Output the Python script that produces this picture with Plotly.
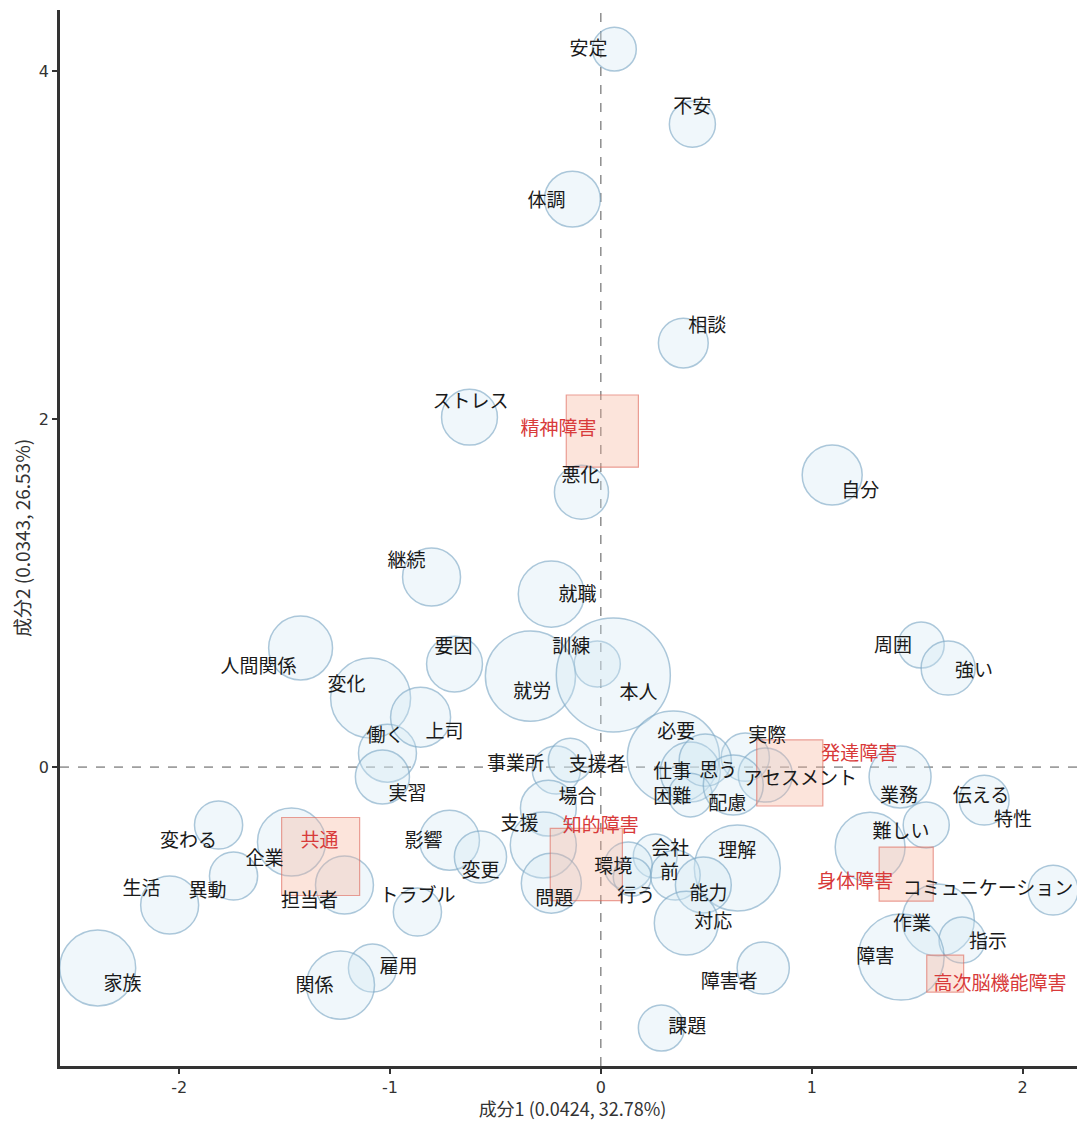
import plotly.graph_objects as go

# ---- word bubbles (component 1, component 2, frequency) ----
words = ["安定", "不安", "体調", "相談", "ストレス", "悪化", "自分", "継続", "就職", "周囲",
         "強い", "人間関係", "要因", "訓練", "変化", "就労", "本人", "働く", "上司", "必要",
         "実際", "事業所", "支援者", "仕事", "思う", "アセスメント", "業務", "伝える", "実習", "場合",
         "困難", "配慮", "特性", "変わる", "影響", "支援", "難しい", "企業", "会社", "理解",
         "変更", "環境", "前", "生活", "異動", "担当者", "トラブル", "問題", "行う", "能力",
         "コミュニケーション", "作業", "対応", "指示", "障害", "家族", "雇用", "関係", "障害者", "課題"]
word_x = [0.064, 0.434, -0.135, 0.391, -0.623, -0.092, 1.097, -0.803, -0.235, 1.519,
          1.647, -1.424, -0.694, -0.017, -1.092, -0.334, 0.059, -1.012, -0.855, 0.344,
          0.685, -0.211, -0.145, 0.424, 0.495, 0.780, 1.419, 1.818, -1.036, -0.249,
          0.424, 0.628, 1.543, -1.813, -0.718, -0.273, 1.277, -1.467, 0.258, 0.647,
          -0.571, 0.130, 0.353, -2.045, -1.742, -1.216, -0.870, -0.235, 0.149, 0.486,
          2.145, 1.600, 0.405, 1.713, 1.424, -2.386, -1.083, -1.235, 0.770, 0.287]
word_y = [4.126, 3.695, 3.264, 2.437, 2.011, 1.580, 1.678, 1.092, 0.994, 0.701,
          0.569, 0.684, 0.592, 0.592, 0.397, 0.523, 0.529, 0.080, 0.287, 0.057,
          0.057, -0.017, 0.040, -0.029, 0.040, -0.046, -0.057, -0.190, -0.057, -0.236,
          -0.161, -0.103, -0.333, -0.333, -0.420, -0.448, -0.460, -0.431, -0.511, -0.580,
          -0.517, -0.569, -0.621, -0.793, -0.626, -0.678, -0.833, -0.667, -0.632, -0.678,
          -0.707, -0.879, -0.897, -0.994, -1.092, -1.155, -1.155, -1.253, -1.155, -1.500]
word_freq = [48, 53, 78, 62, 78, 73, 90, 84, 109, 53,
             73, 102, 78, 53, 160, 203, 325, 84, 90, 212,
             58, 58, 48, 90, 68, 73, 96, 62, 73, 78,
             48, 90, 53, 58, 90, 109, 122, 116, 48, 185,
             68, 58, 62, 84, 58, 84, 58, 90, 36, 78,
             62, 130, 102, 53, 185, 144, 58, 116, 68, 53]
# label positions (repelled from bubble centres)
label_x = [-0.059, 0.434, -0.258, 0.505, -0.618, -0.097, 1.230, -0.922, -0.111, 1.386,
           1.770, -1.623, -0.699, -0.140, -1.206, -0.325, 0.178, -1.021, -0.742, 0.358,
           0.789, -0.405, -0.017, 0.339, 0.557, 0.945, 1.414, 1.803, -0.917, -0.111,
           0.339, 0.600, 1.955, -1.955, -0.841, -0.386, 1.424, -1.595, 0.329, 0.647,
           -0.571, 0.059, 0.325, -2.178, -1.865, -1.382, -0.870, -0.221, 0.168, 0.510,
           1.836, 1.476, 0.533, 1.836, 1.301, -2.268, -0.960, -1.358, 0.609, 0.410]
label_y = [4.121, 3.787, 3.247, 2.529, 2.092, 1.667, 1.580, 1.178, 0.983, 0.690,
           0.546, 0.569, 0.684, 0.684, 0.466, 0.425, 0.420, 0.172, 0.195, 0.195,
           0.172, 0.011, 0.006, -0.034, -0.029, -0.075, -0.172, -0.172, -0.161, -0.178,
           -0.178, -0.218, -0.310, -0.431, -0.431, -0.333, -0.379, -0.534, -0.477, -0.489,
           -0.603, -0.580, -0.617, -0.707, -0.718, -0.776, -0.747, -0.764, -0.747, -0.736,
           -0.707, -0.908, -0.897, -1.011, -1.098, -1.253, -1.155, -1.264, -1.241, -1.500]

# ---- category squares ----
cats = ["精神障害", "発達障害", "共通", "知的障害", "身体障害", "高次脳機能障害"]
cat_x = [0.007, 0.896, -1.329, -0.069, 1.448, 1.633]
cat_y = [1.931, -0.034, -0.514, -0.560, -0.615, -1.187]
cat_n = [130, 109, 152, 130, 73, 34]
cat_label_x = [-0.201, 1.225, -1.334, 0.000, 1.206, 1.893]
cat_label_y = [1.937, 0.069, -0.431, -0.345, -0.667, -1.253]

x_ticks = [-2, -1, 0, 1, 2]
x_tick_text = ["-2", "-1", "0", "1", "2"]
y_ticks = [0, 2, 4]
y_tick_text = ["0", "2", "4"]
x_title = "成分1 (0.0424, 32.78%)"
y_title = "成分2 (0.0343, 26.53%)"

JP = "Noto Sans CJK JP"

fig = go.Figure()
fig.add_trace(go.Scatter(
    x=word_x, y=word_y, mode="markers", hoverinfo="skip", showlegend=False,
    marker=dict(size=word_freq, sizemode="area", sizeref=0.05,
                color="rgba(211,233,244,0.45)",
                line=dict(color="rgba(130,172,200,0.95)", width=1.5))))
fig.add_trace(go.Scatter(
    x=cat_x, y=cat_y, mode="markers", hoverinfo="skip", showlegend=False,
    marker=dict(symbol="square", size=cat_n, sizemode="area", sizeref=0.05,
                color="rgba(248,180,155,0.5)",
                line=dict(color="rgba(225,110,95,0.95)", width=1.2))))
fig.add_trace(go.Scatter(
    x=label_x, y=label_y, mode="text", text=words, hoverinfo="skip", showlegend=False,
    textfont=dict(family=JP, size=19, color="#1a1a1a")))
fig.add_trace(go.Scatter(
    x=cat_label_x, y=cat_label_y, mode="text", text=cats, hoverinfo="skip", showlegend=False,
    textfont=dict(family=JP, size=19, color="#d83a3a")))

# dashed origin lines
fig.add_shape(type="line", xref="x", yref="paper", x0=0, x1=0, y0=0, y1=1,
              line=dict(color="#555555", width=1, dash="dash"), layer="below")
fig.add_shape(type="line", xref="paper", yref="y", x0=0, x1=1, y0=0, y1=0,
              line=dict(color="#555555", width=1, dash="dash"), layer="below")

axis_common = dict(showgrid=False, zeroline=False, showline=True, linecolor="#333333",
                   linewidth=2.5, ticks="outside", ticklen=5, tickwidth=1.5,
                   tickcolor="#333333", tickfont=dict(family="DejaVu Sans", size=16, color="#333333"))
fig.update_xaxes(range=[-2.565, 2.296], tickvals=x_ticks, ticktext=x_tick_text, **axis_common,
                 title=dict(text=x_title, font=dict(family=JP, size=18, color="#333333"), standoff=4))
fig.update_yaxes(range=[-1.718, 4.351], tickvals=y_ticks, ticktext=y_tick_text, **axis_common,
                 title=dict(text=y_title, font=dict(family=JP, size=19, color="#333333"), standoff=8))

# the page body adds an 8px offset, so the figure is 8px smaller than the window
fig.update_layout(width=1077, height=1113, plot_bgcolor="white", paper_bgcolor="white",
                  margin=dict(l=52, r=0, t=2, b=55, autoexpand=False), showlegend=False)

fig.write_html("out.html")
